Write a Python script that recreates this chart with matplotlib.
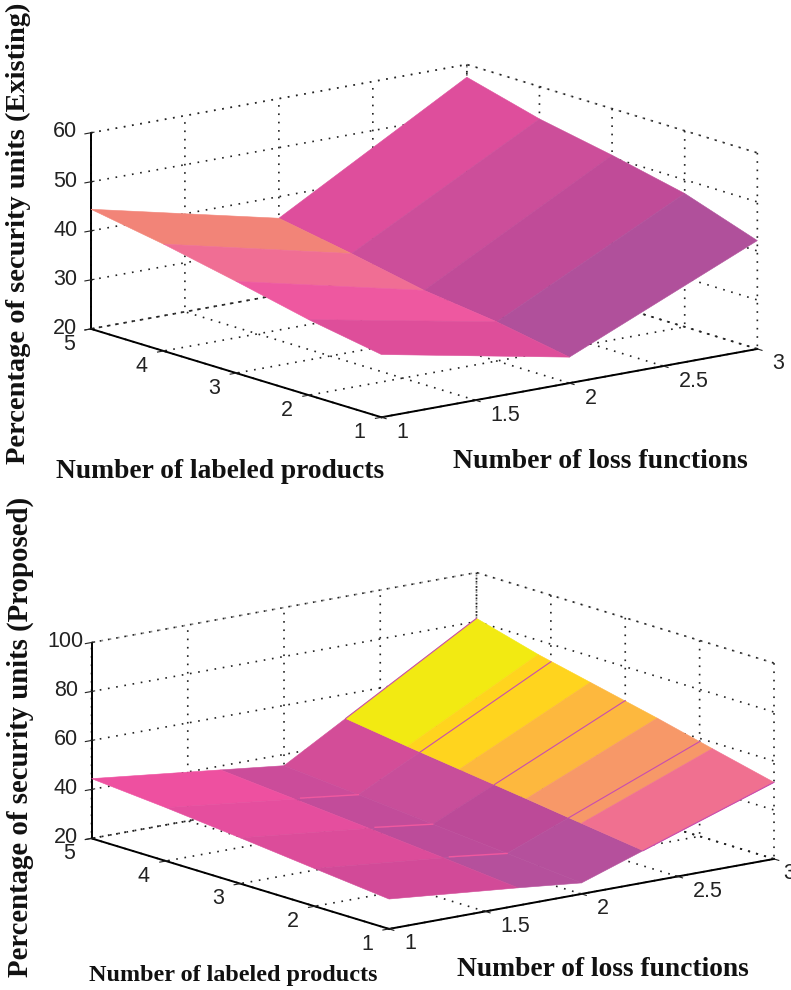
#!/usr/bin/env python
import numpy as np
import matplotlib
matplotlib.use('Agg')
import matplotlib.pyplot as plt

# existing panel: one value per (y, x), y runs 1..5
ex_x = [1, 2, 3]
ex_y = [1, 2, 3, 4, 5]
ex_z = [[32.8, 25.3, 42.1],
        [35.4, 28.0, 47.2],
        [38.7, 29.9, 50.5],
        [41.8, 32.9, 53.4],
        [44.4, 35.6, 57.4]]
ex_colors = [['#DE4E9A', '#B0509B'],
             ['#EE58A0', '#C04B98'],
             ['#F06E94', '#CC4E9A'],
             ['#F28478', '#DE4E9C']]

# proposed panel, purple part
pa_x = [1, 1.67, 2, 2.32]
pa_y = [1, 2, 3, 4, 5]
pa_z = [[32.2, 27.2, 24.5, 33.1],
        [35.4, 30.2, 27.3, 37.3],
        [38.7, 33.0, 30.0, 41.6],
        [41.8, 35.7, 32.8, 45.6],
        [44.4, 38.4, 35.4, 50.1]]
pa_colors = [['#D24A98', '#B5509C', '#B5509C'],
             ['#DC4C9A', '#BC4C9A', '#BC4A98'],
             ['#E54E9E', '#C24C9A', '#C84E9A'],
             ['#EE50A0', '#CB4C9A', '#D34D98']]

# proposed panel, yellow part
pb_x = [2.32, 3]
pb_y = [1, 1.83, 2.57, 3.47, 4.17, 5]
pb_z = [[33.1, 51.3],
        [36.6, 57.4],
        [39.8, 63.0],
        [43.5, 69.3],
        [46.4, 74.2],
        [50.1, 81.3]]
pb_colors = [['#F07090'], ['#F79868'], ['#FDB83E'], ['#FFD41E'], ['#F2EA12']]
far_edge_z = [51.3, 58.7, 66.2, 72.8, 81.3]

x_ticks = [1, 1.5, 2, 2.5, 3]
x_ticklabels = ['1', '1.5', '2', '2.5', '3']
y_ticks = [1, 2, 3, 4, 5]
ex_zticks = [20, 30, 40, 50, 60]
pr_zticks = [20, 40, 60, 80, 100]

plt.rcParams['font.family'] = ['Liberation Sans', 'DejaVu Sans']
plt.rcParams['grid.linestyle'] = (0, (1, 4))
plt.rcParams['grid.linewidth'] = 1.2
plt.rcParams['grid.color'] = '#222222'

W, H = 791, 990


def make_axes(fig, cx, cy, side, zlim, zticks, box):
    # cx, cy: centre of the axes in pixels from the top left
    ax = fig.add_axes([(cx - side/2)/W, 1 - (cy + side/2)/H, side/W, side/H],
                      projection='3d', proj_type='ortho', computed_zorder=False)
    ax.patch.set_alpha(0)
    ax.view_init(elev=13.6, azim=232.3)
    ax.set_box_aspect(box, zoom=1.5)
    ax.set_xlim(1, 3, view_margin=0)
    ax.set_ylim(1, 5, view_margin=0)
    ax.set_zlim(zlim[0], zlim[1], view_margin=0)
    ax.set_xticks(x_ticks)
    ax.set_xticklabels(x_ticklabels)
    ax.set_yticks(y_ticks)
    ax.set_zticks(zticks)
    ax.tick_params(axis='both', labelsize=15.5, colors='#222222')
    ax.tick_params(axis='x', pad=1)
    ax.tick_params(axis='y', pad=2)
    ax.tick_params(axis='z', pad=-1.4)
    for axis in (ax.xaxis, ax.yaxis, ax.zaxis):
        axis.pane.set_facecolor((1, 1, 1, 0))
        axis.pane.set_edgecolor('#222222')
        axis.pane.set_linestyle((0, (1, 4)))
        axis.pane.set_linewidth(1.2)
        axis.line.set_color('black')
        axis.line.set_linewidth(1.4)
        for lab in axis.get_ticklabels():
            lab.set_va('center')
    for lab in ax.xaxis.get_ticklabels():
        lab.set_ha('left')
    return ax


def surface(ax, xs, ys, zs, colors, zorder):
    X, Y = np.meshgrid(xs, ys)
    surf = ax.plot_surface(X, Y, np.array(zs, dtype=float), facecolors=colors,
                           rstride=1, cstride=1, shade=False, linewidth=0.4,
                           zorder=zorder)
    surf.set_clip_on(False)


fig = plt.figure(figsize=(7.91, 9.90), dpi=100)

# top
ax1 = make_axes(fig, 418, 247, 454, (20, 60), ex_zticks, (478, 478, 203))
surface(ax1, ex_x, ex_y, ex_z, ex_colors, 2)

# bottom
ax2 = make_axes(fig, 426.5, 757, 464, (20, 100), pr_zticks, (478, 478, 198))
ax2.xaxis.get_ticklabels()[-1].set_ha('center')
surface(ax2, pa_x, pa_y, pa_z, pa_colors, 2)
surface(ax2, pb_x, pb_y, pb_z, pb_colors, 2)

# thin lines poking through on the proposed surface
for i in range(5):
    line = ax2.plot([2.32, 3], [pa_y[i], pa_y[i]], [pa_z[i][3], far_edge_z[i]],
                    color='#C84CB0', lw=0.8, zorder=3)[0]
    line.set_clip_on(False)
for i in [1, 2, 3]:
    line = ax2.plot([1.7, 2], [pa_y[i], pa_y[i]], [pa_z[i][1], pa_z[i][2]],
                    color='#F0589F', lw=1.0, zorder=3)[0]
    line.set_clip_on(False)

label_font = dict(family='Liberation Serif', weight='bold', color='#111111')
fig.text(18/W, 1 - 233/H, 'Percentage of security units (Existing)', rotation=90,
         ha='center', va='center', fontsize=20.5, **label_font)
fig.text(220/W, 1 - 471/H, 'Number of labeled products', ha='center', va='center',
         fontsize=19.8, **label_font)
fig.text(600/W, 1 - 461/H, 'Number of loss functions', ha='center', va='center',
         fontsize=20, **label_font)
fig.text(20/W, 1 - 737/H, 'Percentage of security units (Proposed)', rotation=90,
         ha='center', va='center', fontsize=20.7, **label_font)
fig.text(233/W, 1 - 975/H, 'Number of labeled products', ha='center', va='center',
         fontsize=17.4, **label_font)
fig.text(603/W, 1 - 970/H, 'Number of loss functions', ha='center', va='center',
         fontsize=19.8, **label_font)

fig.savefig('out.png', dpi=100)
